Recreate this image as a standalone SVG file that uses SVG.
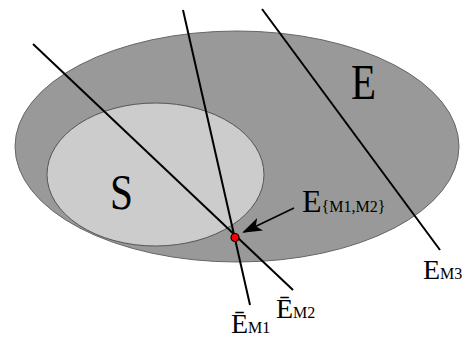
<svg xmlns="http://www.w3.org/2000/svg" width="468" height="338" viewBox="0 0 468 338">
<style>
.lbl{font-family:"Liberation Serif","DejaVu Serif",serif;fill:#000}
.ln{stroke:#000;stroke-width:2;fill:none}
</style>
<defs>
<marker id="ah" viewBox="0 0 20 14" refX="18" refY="7" markerWidth="20" markerHeight="14" markerUnits="userSpaceOnUse" orient="auto">
<path d="M0,0 L20,7 L0,14 L5,7 Z" fill="#000"/>
</marker>
</defs>
<rect width="468" height="338" fill="#fff"/>
<g id="E">
<ellipse cx="237" cy="146.5" rx="222" ry="115.5" fill="#999" stroke="#666" stroke-width="1"/>
<text class="lbl" x="351" y="99" font-size="50" textLength="25" lengthAdjust="spacingAndGlyphs">E</text>
</g>
<g id="S">
<ellipse cx="155.5" cy="174.5" rx="108.5" ry="71.5" fill="#ccc" stroke="#555" stroke-width="1"/>
<text class="lbl" x="110" y="209" font-size="50" textLength="23" lengthAdjust="spacingAndGlyphs">S</text>
</g>
<g id="connectors">
<line class="ln" x1="33" y1="44" x2="293" y2="290"/>
<line class="ln" x1="183" y1="10" x2="250" y2="305"/>
<line class="ln" x1="262" y1="9" x2="440" y2="250"/>
<line x1="294" y1="208" x2="244" y2="232" stroke="#000" stroke-width="1.5" marker-end="url(#ah)"/>
</g>
<g id="point">
<circle cx="235" cy="237.5" r="4" fill="#f00" stroke="#000" stroke-width="1.2"/>
<text class="lbl" x="302" y="212" font-size="32">E<tspan font-size="16">{M1,M2}</tspan></text>
</g>
<g id="EM3">
<text class="lbl" x="423" y="279" font-size="28">E<tspan font-size="16">M3</tspan></text>
</g>
<g id="EM2">
<text class="lbl" x="276" y="318" font-size="28">Ē<tspan font-size="16">M2</tspan></text>
</g>
<g id="EM1">
<text class="lbl" x="231" y="333" font-size="28">Ē<tspan font-size="16">M1</tspan></text>
</g>
</svg>
